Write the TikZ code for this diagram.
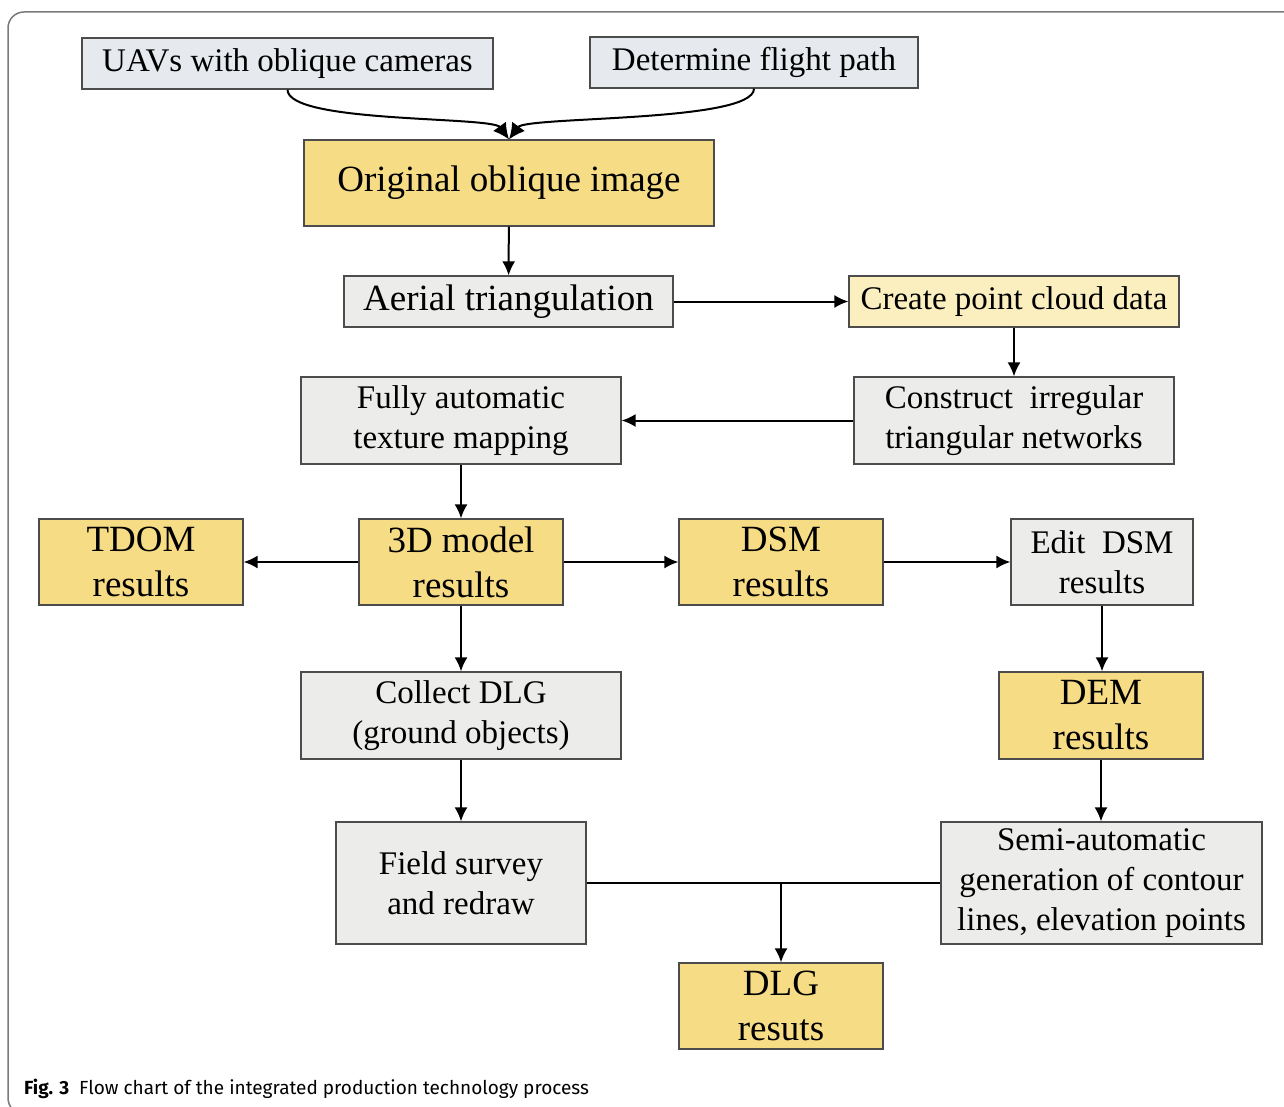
\documentclass[tikz,border=0pt]{standalone}
\usepackage{fontspec}
\setmainfont{Liberation Serif}
\newfontfamily\capfont{Fira Sans}
\usetikzlibrary{arrows.meta}

\definecolor{boxgray}{HTML}{ECECEA}
\definecolor{boxblue}{HTML}{E6EAEE}
\definecolor{boxyellow}{HTML}{F6DC84}
\definecolor{boxpale}{HTML}{FBEFC0}
\definecolor{framegray}{HTML}{7A7A7A}

\tikzset{
  box/.style={draw=black!70, line width=1.2pt, inner sep=0pt, align=center,
    font=\fontsize{33}{40}\selectfont},
  graybox/.style={box, fill=boxgray},
  yelbox/.style={box, fill=boxyellow},
  bigtext/.style={font=\fontsize{37}{45}\selectfont},
  flow/.style={line width=2pt, -{Latex[length=14pt,width=13pt]}},
  merge/.style={line width=2pt, -{Latex[length=16pt,width=16pt]}},
  plain/.style={line width=2pt}
}

\begin{document}
\begin{tikzpicture}[x=1pt,y=-1pt]
  \useasboundingbox (0,0) rectangle (1284,1107);
  % outer frame
  \begin{scope}
    \clip (0,0) rectangle (1284,1107);
    \draw [framegray, line width=1.5pt, rounded corners=16pt] (8,12) rectangle (1300,1114);
  \end{scope}

  % boxes
  \node [box, fill=boxblue, minimum width=411pt, minimum height=51pt] (uav) at (287.5,63.5) {UAVs with oblique cameras};
  \node [box, fill=boxblue, minimum width=328pt, minimum height=51pt] (path) at (754,62.5) {Determine flight path};
  \node [yelbox, bigtext, minimum width=410pt, minimum height=86pt] (orig) at (509,183) {Original oblique image};
  \node [graybox, bigtext, minimum width=329pt, minimum height=51pt] (aero) at (508.5,301.5) {Aerial triangulation};
  \node [box, fill=boxpale, minimum width=330pt, minimum height=51pt] (cloud) at (1014,301.5) {Create point cloud data};
  \node [graybox, minimum width=320pt, minimum height=87pt] (tex) at (461,420.5) {Fully automatic\\texture mapping};
  \node [graybox, minimum width=320pt, minimum height=87pt] (tin) at (1014,420.5) {Construct\ \ irregular\\triangular networks};
  \node [yelbox, bigtext, minimum width=204pt, minimum height=86pt] (tdom) at (141,562) {TDOM\\results};
  \node [yelbox, bigtext, minimum width=204pt, minimum height=86pt] (model) at (461,562) {3D model\\results};
  \node [yelbox, bigtext, minimum width=204pt, minimum height=86pt] (dsm) at (781,562) {DSM\\results};
  \node [graybox, minimum width=182pt, minimum height=86pt] (edit) at (1102,562) {Edit\ \ DSM\\results};
  \node [graybox, minimum width=320pt, minimum height=87pt] (collect) at (461,715.5) {Collect DLG\\(ground objects)};
  \node [yelbox, bigtext, minimum width=204pt, minimum height=87pt] (dem) at (1101,715.5) {DEM\\results};
  \node [graybox, minimum width=250pt, minimum height=122pt] (field) at (461,883) {Field survey\\and redraw};
  \node [graybox, minimum width=321pt, minimum height=122pt] (semi) at (1101.5,883) {Semi-automatic\\generation of contour\\lines, elevation points};
  \node [yelbox, bigtext, minimum width=204pt, minimum height=86pt] (dlg) at (781,1006) {DLG\\resuts};

  % connectors
  \draw [merge] (uav.south) .. controls +(0,34) and (492,116) .. (orig.north);
  \draw [merge] (path.south) .. controls +(0,34) and (526,116) .. (orig.north);
  \draw [flow] (orig) -- (aero);
  \draw [flow] (aero) -- (cloud);
  \draw [flow] (cloud) -- (tin);
  \draw [flow] (tin) -- (tex);
  \draw [flow] (tex) -- (model);
  \draw [flow] (model) -- (tdom);
  \draw [flow] (model) -- (dsm);
  \draw [flow] (dsm) -- (edit);
  \draw [flow] (edit.south) -- (edit.south |- dem.north);
  \draw [flow] (model) -- (collect);
  \draw [flow] (collect) -- (field);
  \draw [flow] (dem) -- (semi.north -| dem.south);
  \coordinate (join) at (dlg.north |- field.east);
  \draw [plain] (field.east) -- (semi.west);
  \draw [flow] (join) -- (dlg.north);

  % caption
  \node [anchor=west, inner sep=0pt, font=\capfont\fontsize{19}{22}\selectfont] (cap) at (24,1089)
    {\textbf{Fig. 3}\ \ Flow chart of the integrated production technology process};
\end{tikzpicture}
\end{document}
